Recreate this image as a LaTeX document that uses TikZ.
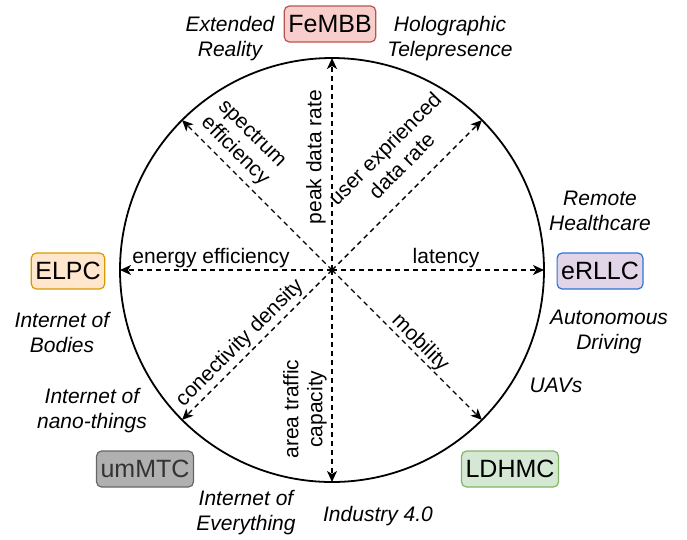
\documentclass[tikz,border=0pt]{standalone}
\usepackage{fontspec}
\setmainfont{Liberation Sans}
\usetikzlibrary{arrows.meta,positioning}
\definecolor{ink}{HTML}{000000}
\definecolor{redfill}{HTML}{F8CECC}
\definecolor{redline}{HTML}{B85450}
\definecolor{orgfill}{HTML}{FFE6CC}
\definecolor{orgline}{HTML}{D79B00}
\definecolor{purfill}{HTML}{E1D5E7}
\definecolor{purline}{HTML}{2B74D6}
\definecolor{gryfill}{HTML}{B0B0B0}
\definecolor{gryline}{HTML}{666666}
\definecolor{grytext}{HTML}{333333}
\definecolor{grnfill}{HTML}{D5E8D4}
\definecolor{grnline}{HTML}{82B366}
\tikzset{
  service/.style={rounded corners=5pt, line width=1.2pt,
                  minimum height=36pt, inner xsep=4pt, inner ysep=2pt,
                  font=\fontsize{25}{29}\selectfont},
  usecase/.style={align=center, inner sep=1pt,
                  font=\fontsize{21}{25}\selectfont\itshape},
  kpi/.style={align=center, inner sep=1pt,
              font=\fontsize{21}{24}\selectfont},
  kpiarr/.style={-{Stealth[length=11pt,width=10pt,inset=3pt]},
                 line width=1.4pt, dash pattern=on 5pt off 4pt}
}
\begin{document}
\begin{tikzpicture}[x=1pt,y=-1pt]
  \useasboundingbox (0,0) rectangle (687,539);
  % radar circle and the eight KPI axes
  \coordinate (hub) at (332,270);
  \draw[ink,line width=1.8pt] (hub) circle (212pt);
  \foreach \a in {0,45,...,315} {
    \path (hub) ++(\a:212pt) coordinate (rim\a);
    \draw[kpiarr] (hub) -- (rim\a);
  }

  % KPI labels
  \node[kpi] (peak) at (316,157) [rotate=90] {peak data rate};
  \node[kpi] (user) at (393,157) [rotate=45] {user exprienced\\data rate};
  \node[kpi] (spec) at (243,143) [rotate=-45] {spectrum\\efficiency};
  \node[kpi] (energy) at (211,258) {energy efficiency};
  \node[kpi] (lat) at (446,258) {latency};
  \node[kpi] (conn) at (240,343) [rotate=45] {conectivity density};
  \node[kpi] (area) at (305,409) [rotate=90] {area traffic\\capacity};
  \node[kpi] (mob) at (420,343) [rotate=-45] {mobility};

  % service classes
  \node[service,fill=redfill,draw=redline] (fembb) at (330,24) {FeMBB};
  \node[service,fill=orgfill,draw=orgline] (elpc) at (68,271) {ELPC};
  \node[service,fill=purfill,draw=purline] (erllc) at (600,271) {eRLLC};
  \node[service,fill=gryfill,draw=gryline,text=grytext] (ummtc) at (145,469) {umMTC};
  \node[service,fill=grnfill,draw=grnline] (ldhmc) at (510,469) {LDHMC};

  % use cases
  \node[usecase] (xr) at (230,39) {Extended\\Reality};
  \node[usecase] (holo) at (450,39) {Holographic\\Telepresence};
  \node[usecase] (health) at (600,211) {Remote\\Healthcare};
  \node[usecase] (drive) at (609,332) {Autonomous\\Driving};
  \node[usecase] (iob) at (62,332) {Internet of\\Bodies};
  \node[usecase] (uav) at (556,385) {UAVs};
  \node[usecase] (nano) at (92,411) {Internet of\\nano-things};
  \node[usecase] (ioe) at (246,513) {Internet of\\Everything};
  \node[usecase] (ind) at (378,516) {Industry 4.0};
\end{tikzpicture}
\end{document}
